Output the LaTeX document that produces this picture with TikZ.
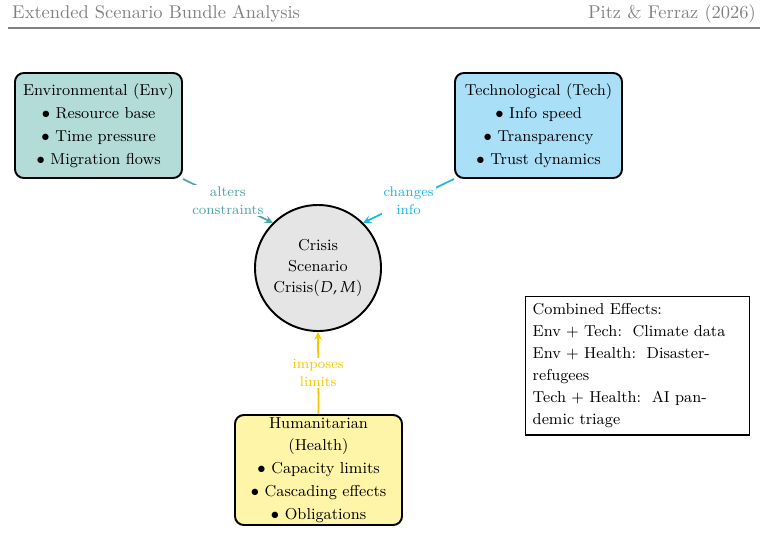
\documentclass[tikz,border=0pt]{standalone}
\usepackage{mathpazo}
\usepackage{helvet}
\begin{document}
\begin{tikzpicture}[x=0.02cm,y=-0.02cm,
  box/.style={draw=black,line width=1.1pt,rounded corners=5pt,align=center,inner sep=0pt,font=\fontsize{9}{13}\selectfont},
  lab/.style={fill=white,align=center,inner sep=1pt,font=\fontsize{8}{10}\selectfont},
  arr/.style={line width=1pt,->,>=stealth}]
\definecolor{envc}{HTML}{B3DBD8}\definecolor{envl}{HTML}{4FA7A3}
\definecolor{tecc}{HTML}{AADFF8}\definecolor{tecl}{HTML}{1DB8E6}
\definecolor{heac}{HTML}{FFF5A8}\definecolor{heal}{HTML}{F5C800}
\useasboundingbox (0,0) rectangle (767,534);
\node[anchor=west,text=gray,font=\fontsize{10.5}{12}\sffamily] (h1) at (6,14) {Extended Scenario Bundle Analysis};
\node[anchor=east,text=gray,font=\fontsize{10.5}{12}\sffamily] (h2) at (762,14) {Pitz \& Ferraz (2026)};
\draw[gray,line width=0.6pt] (8,28) -- (760,28);
\node[box,fill=envc,minimum width=167*0.02cm,minimum height=105*0.02cm] (env) at (98.5,125.5) {\textbf{Environmental (}Env\textbf{)}\\ $\bullet$ Resource base\\ $\bullet$ Time pressure\\ $\bullet$ Migration flows};
\node[box,fill=tecc,minimum width=167*0.02cm,minimum height=105*0.02cm] (tec) at (538.5,125.5) {\textbf{Technological (}Tech\textbf{)}\\ $\bullet$ Info speed\\ $\bullet$ Transparency\\ $\bullet$ Trust dynamics};
\node[box,fill=heac,minimum width=167*0.02cm,minimum height=110*0.02cm] (hea) at (318.5,470) {\textbf{Humanitarian}\\ \textbf{(}Health\textbf{)}\\ $\bullet$ Capacity limits\\ $\bullet$ Cascading effects\\ $\bullet$ Obligations};
\node[circle,draw=black,line width=1.1pt,fill=gray!20,minimum size=126*0.02cm,align=center,inner sep=0pt,font=\fontsize{9}{12}\selectfont] (cr) at (318,268) {\textbf{Crisis}\\ \textbf{Scenario}\\ Crisis$(D,M)$};
\node[draw=black,line width=0.8pt,align=left,anchor=north west,text width=210*0.02cm,inner sep=4pt,font=\fontsize{9}{12.5}\selectfont] (ce) at (525,296) {\textbf{Combined Effects:}\\ Env + Tech:\ \ Climate data\\ Env + Health:\ \ Disaster-\\refugees\\ Tech + Health:\ \ AI pandemic triage};
\draw[arr,envl] (env.south east) -- node[lab,text=envl]{alters\\constraints} (cr.135);
\draw[arr,tecl] (tec.south west) -- node[lab,text=tecl]{changes\\info} (cr.45);
\draw[arr,heal] (hea.north) -- node[lab,text=heal]{imposes\\limits} (cr.south);
\end{tikzpicture}
\end{document}
